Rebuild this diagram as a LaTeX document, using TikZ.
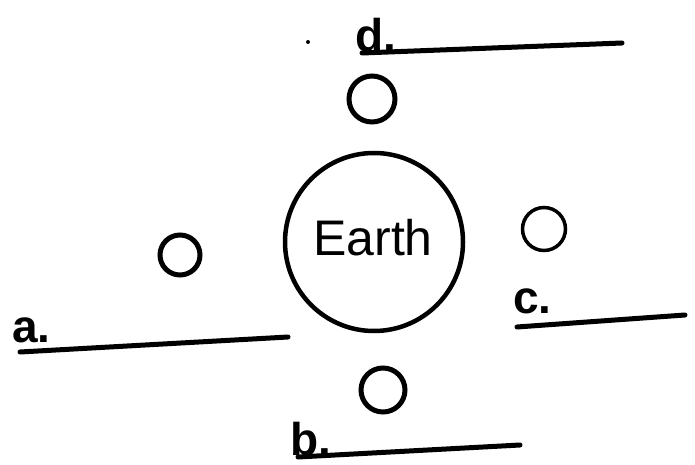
\documentclass[tikz,border=0pt]{standalone}
\usepackage{fontspec}
\setmainfont{Liberation Sans}
\usepackage{tikz}

\begin{document}
\begin{tikzpicture}[x=1pt,y=-1pt,
        moon/.style={circle,draw,line width=5pt,minimum size=40pt,inner sep=0pt},
        lbl/.style={anchor=base west,inner sep=0pt,font=\fontsize{46}{52}\selectfont\bfseries},
        blank/.style={line width=5pt,line cap=round}]
        \useasboundingbox (0,0) rectangle (695,465);
        % Earth
        \node[circle,draw,line width=4.5pt,minimum size=178pt,inner sep=0pt] (earth) at (374,242) {};
        \node[font=\fontsize{50}{56}\selectfont] (earthtext) at (373,238) {Earth};
        % Moons
        \node[moon,minimum height=46pt] (moond) at (372,99) {};
        \node[moon] (moona) at (180,255) {};
        \node[moon,minimum size=43pt,line width=3.5pt] (moonc) at (544,229) {};
        \node[moon,minimum size=44pt] (moonb) at (383,390) {};
        % Labels
        \node[lbl] (labeld) at (355,52) {d.};
        \node[lbl] (labela) at (12,342) {a.};
        \node[lbl] (labelc) at (513,313) {c.};
        \node[lbl] (labelb) at (290,455) {b.};
        % Blanks
        \coordinate (d1) at (362,53);
        \coordinate (d2) at (622,43);
        \coordinate (a1) at (20,352);
        \coordinate (a2) at (288,337);
        \coordinate (c1) at (517,327);
        \coordinate (c2) at (685,315);
        \coordinate (b1) at (298,457);
        \coordinate (b2) at (520,445);
        \draw[blank] (d1) -- (d2);
        \draw[blank] (a1) -- (a2);
        \draw[blank] (c1) -- (c2);
        \draw[blank] (b1) -- (b2);
        % stray mark
        \fill (308,42) circle (2);
    \end{tikzpicture}
\end{document}
